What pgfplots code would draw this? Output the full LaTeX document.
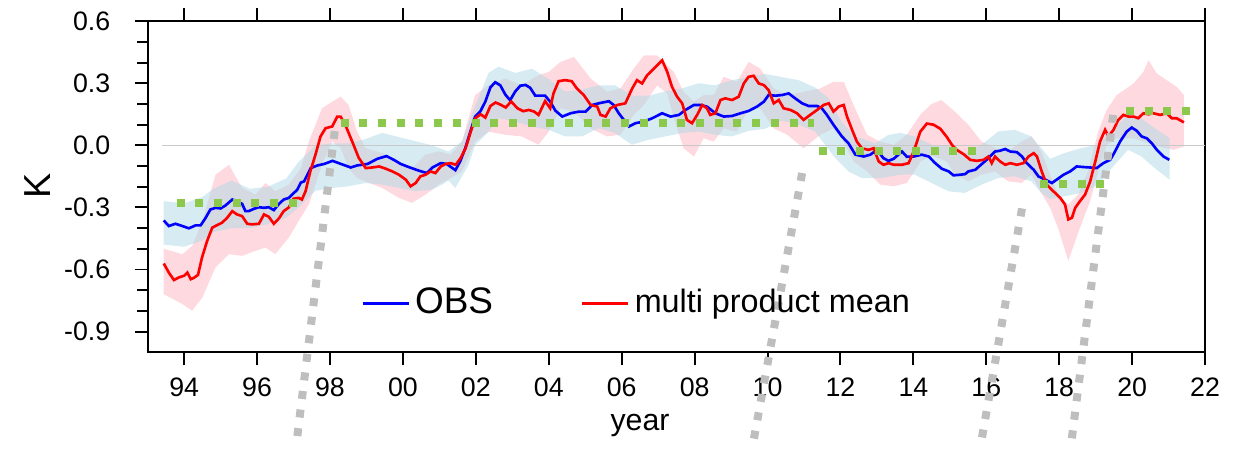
\documentclass[border=0pt]{standalone}
\usepackage{fontspec}
\setmainfont{Liberation Sans}
\usepackage{pgfplots}
\usepackage{pgfplotstable}
\pgfplotsset{compat=1.18}
\usepgfplotslibrary{fillbetween}

\definecolor{obsblue}{RGB}{0,0,255}
\definecolor{mpmred}{RGB}{255,0,0}
\definecolor{bandpink}{RGB}{255,192,203}
\definecolor{bandblue}{RGB}{173,216,230}
\definecolor{stepgreen}{RGB}{140,200,75}
\definecolor{linkgray}{RGB}{190,190,190}

% OBS
\pgfplotstableread{
x y
1993.44 -0.363
1993.58 -0.390
1993.76 -0.379
1993.95 -0.390
1994.13 -0.401
1994.31 -0.387
1994.45 -0.387
1994.59 -0.350
1994.72 -0.310
1994.86 -0.302
1995.00 -0.305
1995.13 -0.291
1995.32 -0.262
1995.45 -0.270
1995.59 -0.283
1995.68 -0.318
1995.77 -0.318
1995.91 -0.307
1996.05 -0.299
1996.19 -0.302
1996.32 -0.299
1996.46 -0.313
1996.60 -0.283
1996.73 -0.262
1996.87 -0.254
1997.01 -0.230
1997.10 -0.215
1997.20 -0.180
1997.29 -0.174
1997.47 -0.110
1997.66 -0.097
1997.84 -0.090
1998.07 -0.075
1998.30 -0.090
1998.57 -0.107
1998.75 -0.097
1999.03 -0.090
1999.30 -0.065
1999.55 -0.052
1999.75 -0.070
1999.94 -0.090
2000.16 -0.105
2000.43 -0.122
2000.66 -0.134
2000.81 -0.107
2001.04 -0.086
2001.20 -0.090
2001.44 -0.120
2001.57 -0.078
2001.71 -0.014
2001.85 0.066
2001.98 0.139
2002.12 0.163
2002.26 0.211
2002.40 0.280
2002.53 0.305
2002.67 0.290
2002.81 0.245
2002.94 0.218
2003.08 0.260
2003.22 0.288
2003.36 0.292
2003.49 0.278
2003.63 0.240
2003.77 0.240
2003.90 0.240
2004.04 0.211
2004.18 0.168
2004.37 0.139
2004.60 0.155
2004.83 0.163
2005.01 0.163
2005.19 0.195
2005.42 0.205
2005.65 0.213
2005.78 0.195
2005.92 0.155
2006.06 0.123
2006.20 0.091
2006.38 0.107
2006.61 0.115
2006.84 0.131
2007.11 0.155
2007.34 0.139
2007.57 0.147
2007.75 0.171
2007.98 0.195
2008.16 0.195
2008.34 0.187
2008.57 0.155
2008.80 0.139
2009.03 0.142
2009.26 0.155
2009.48 0.166
2009.71 0.187
2009.90 0.211
2010.03 0.243
2010.22 0.240
2010.40 0.243
2010.58 0.251
2010.76 0.227
2010.95 0.203
2011.13 0.190
2011.36 0.190
2011.49 0.179
2011.63 0.147
2011.81 0.099
2012.04 0.043
2012.22 0.010
2012.41 -0.045
2012.64 -0.054
2012.82 -0.045
2013.00 -0.022
2013.18 -0.062
2013.32 -0.075
2013.46 -0.065
2013.69 -0.030
2013.82 -0.055
2014.01 -0.054
2014.23 -0.045
2014.42 -0.054
2014.60 -0.086
2014.78 -0.113
2014.97 -0.126
2015.10 -0.145
2015.29 -0.142
2015.42 -0.139
2015.51 -0.126
2015.70 -0.118
2015.88 -0.090
2016.06 -0.062
2016.24 -0.030
2016.38 -0.026
2016.52 -0.018
2016.66 -0.030
2016.84 -0.033
2016.98 -0.054
2017.11 -0.086
2017.30 -0.118
2017.43 -0.150
2017.62 -0.166
2017.80 -0.182
2017.93 -0.166
2018.12 -0.142
2018.30 -0.126
2018.48 -0.102
2018.67 -0.105
2018.85 -0.107
2019.03 -0.110
2019.21 -0.086
2019.40 -0.070
2019.53 -0.030
2019.67 0.018
2019.85 0.066
2019.99 0.086
2020.13 0.070
2020.26 0.043
2020.40 0.034
2020.54 0.010
2020.68 -0.022
2020.86 -0.054
2021.02 -0.070
}\obs

% multi product mean
\pgfplotstableread{
x y
1993.44 -0.571
1993.58 -0.615
1993.72 -0.651
1993.86 -0.638
1994.00 -0.630
1994.09 -0.615
1994.18 -0.647
1994.27 -0.640
1994.38 -0.626
1994.49 -0.542
1994.63 -0.462
1994.77 -0.398
1994.91 -0.385
1995.04 -0.374
1995.18 -0.350
1995.32 -0.318
1995.45 -0.334
1995.59 -0.342
1995.73 -0.379
1995.86 -0.382
1996.05 -0.379
1996.19 -0.334
1996.32 -0.345
1996.46 -0.379
1996.60 -0.353
1996.73 -0.318
1996.87 -0.300
1997.00 -0.258
1997.14 -0.254
1997.23 -0.262
1997.33 -0.222
1997.46 -0.126
1997.60 -0.046
1997.74 0.043
1997.88 0.083
1998.06 0.091
1998.20 0.139
1998.29 0.139
1998.42 0.099
1998.61 0.018
1998.79 -0.061
1998.98 -0.110
1999.16 -0.107
1999.35 -0.102
1999.53 -0.113
1999.71 -0.126
1999.89 -0.142
2000.08 -0.166
2000.21 -0.198
2000.35 -0.182
2000.48 -0.150
2000.62 -0.142
2000.76 -0.126
2000.89 -0.134
2001.04 -0.102
2001.17 -0.090
2001.31 -0.086
2001.45 -0.094
2001.58 -0.062
2001.72 -0.014
2001.86 0.066
2001.99 0.131
2002.13 0.150
2002.26 0.134
2002.40 0.190
2002.54 0.207
2002.67 0.197
2002.82 0.183
2002.97 0.212
2003.14 0.179
2003.30 0.165
2003.45 0.171
2003.60 0.163
2003.72 0.147
2003.90 0.214
2004.04 0.179
2004.13 0.251
2004.27 0.310
2004.45 0.315
2004.63 0.310
2004.77 0.275
2004.96 0.243
2005.15 0.195
2005.33 0.187
2005.42 0.147
2005.56 0.139
2005.69 0.179
2005.88 0.195
2006.10 0.203
2006.29 0.275
2006.42 0.315
2006.56 0.299
2006.70 0.339
2006.93 0.379
2007.11 0.411
2007.25 0.355
2007.38 0.283
2007.52 0.235
2007.66 0.203
2007.79 0.123
2007.93 0.107
2008.07 0.147
2008.21 0.195
2008.34 0.179
2008.43 0.147
2008.57 0.155
2008.71 0.219
2008.84 0.227
2009.03 0.219
2009.21 0.235
2009.35 0.299
2009.48 0.331
2009.62 0.336
2009.76 0.299
2009.90 0.291
2010.03 0.267
2010.17 0.203
2010.31 0.219
2010.44 0.179
2010.63 0.171
2010.81 0.155
2010.99 0.123
2011.17 0.147
2011.36 0.171
2011.54 0.195
2011.68 0.203
2011.81 0.163
2011.95 0.187
2012.09 0.195
2012.18 0.139
2012.32 0.075
2012.45 0.018
2012.59 -0.014
2012.77 -0.022
2012.91 -0.014
2013.05 -0.078
2013.18 -0.094
2013.32 -0.086
2013.46 -0.094
2013.69 -0.094
2013.87 -0.086
2014.01 -0.030
2014.19 0.066
2014.37 0.105
2014.55 0.100
2014.74 0.080
2014.92 0.040
2015.06 0.002
2015.19 -0.022
2015.38 -0.043
2015.56 -0.070
2015.74 -0.075
2015.93 -0.070
2016.06 -0.054
2016.15 -0.086
2016.24 -0.054
2016.38 -0.078
2016.52 -0.094
2016.66 -0.086
2016.84 -0.094
2017.02 -0.086
2017.16 -0.054
2017.30 -0.038
2017.39 -0.054
2017.52 -0.126
2017.66 -0.190
2017.84 -0.222
2018.03 -0.254
2018.16 -0.286
2018.25 -0.358
2018.35 -0.350
2018.44 -0.302
2018.57 -0.270
2018.71 -0.238
2018.85 -0.174
2018.99 -0.078
2019.12 0.018
2019.26 0.075
2019.35 0.043
2019.49 0.075
2019.62 0.123
2019.76 0.147
2019.90 0.139
2020.04 0.139
2020.17 0.131
2020.31 0.155
2020.45 0.150
2020.58 0.155
2020.77 0.147
2020.95 0.155
2021.09 0.131
2021.22 0.131
2021.42 0.111
}\mpm

% OBS spread, upper and lower edge
\pgfplotstableread{
x y
1993.44 -0.27
1994.00 -0.28
1994.50 -0.25
1994.80 -0.21
1995.30 -0.17
1995.80 -0.21
1996.30 -0.20
1996.80 -0.16
1997.14 -0.08
1997.60 0.00
1998.06 0.01
1998.51 0.01
1998.97 0.03
1999.43 0.06
1999.89 0.04
2000.34 0.02
2000.80 0.00
2001.25 -0.03
2001.62 0.02
2001.98 0.19
2002.35 0.35
2002.62 0.38
2003.08 0.35
2003.54 0.37
2004.00 0.32
2004.45 0.26
2004.91 0.27
2005.37 0.29
2005.82 0.29
2006.28 0.24
2006.74 0.24
2007.19 0.26
2007.65 0.275
2008.11 0.30
2008.56 0.29
2009.02 0.315
2009.48 0.33
2009.93 0.345
2010.39 0.33
2010.85 0.315
2011.30 0.28
2011.67 0.23
2012.03 0.115
2012.40 0.045
2012.95 0.01
2013.31 0.05
2013.64 0.06
2014.04 0.043
2014.50 0.003
2014.96 -0.005
2015.41 -0.037
2015.87 0.003
2016.33 0.067
2016.78 0.075
2017.24 0.043
2017.51 -0.013
2017.75 -0.065
2018.15 -0.037
2018.61 -0.013
2019.07 0.003
2019.52 0.083
2019.89 0.147
2020.25 0.131
2020.62 0.083
2021.03 0.035
}\obshi

\pgfplotstableread{
x y
1993.44 -0.48
1994.00 -0.49
1994.50 -0.46
1994.80 -0.42
1995.30 -0.40
1995.80 -0.40
1996.30 -0.38
1996.80 -0.35
1997.14 -0.30
1997.60 -0.22
1998.06 -0.206
1998.51 -0.198
1998.97 -0.182
1999.43 -0.19
1999.89 -0.206
2000.34 -0.222
2000.80 -0.214
2001.07 -0.19
2001.25 -0.17
2001.44 -0.206
2001.80 -0.094
2001.98 0.00
2002.35 0.066
2002.62 0.131
2003.08 0.115
2003.54 0.091
2004.00 0.075
2004.45 0.043
2004.91 0.043
2005.37 0.083
2005.82 0.059
2006.28 0.003
2006.74 0.027
2007.19 0.043
2007.65 0.059
2008.11 0.067
2008.56 0.051
2009.02 0.043
2009.48 0.07
2009.93 0.08
2010.39 0.12
2010.85 0.10
2011.30 0.067
2011.58 0.003
2011.85 -0.061
2012.22 -0.126
2012.58 -0.158
2013.13 -0.158
2013.64 -0.142
2014.04 -0.142
2014.50 -0.182
2014.96 -0.222
2015.41 -0.23
2015.87 -0.19
2016.33 -0.158
2016.78 -0.15
2017.24 -0.174
2017.51 -0.23
2017.75 -0.26
2018.15 -0.246
2018.61 -0.23
2019.07 -0.19
2019.52 -0.094
2019.89 -0.021
2020.25 -0.053
2020.62 -0.11
2021.03 -0.166
}\obslo

% product spread, upper and lower edge
\pgfplotstableread{
x y
1993.44 -0.50
1993.95 -0.526
1994.22 -0.486
1994.50 -0.366
1994.86 -0.142
1995.23 -0.094
1995.59 -0.206
1995.96 -0.238
1996.23 -0.182
1996.50 -0.222
1996.87 -0.19
1997.20 -0.11
1997.42 0.019
1997.78 0.179
1998.06 0.211
1998.29 0.235
1998.51 0.195
1998.74 0.067
1998.97 -0.013
1999.43 -0.037
1999.89 -0.078
2000.25 -0.11
2000.62 -0.045
2000.98 -0.029
2001.31 -0.045
2001.62 0.018
2001.98 0.243
2002.35 0.291
2002.81 0.323
2003.26 0.291
2003.72 0.339
2004.00 0.355
2004.32 0.403
2004.69 0.427
2005.15 0.323
2005.60 0.259
2005.97 0.275
2006.33 0.371
2006.61 0.435
2006.97 0.435
2007.43 0.355
2007.70 0.259
2007.98 0.211
2008.25 0.243
2008.52 0.243
2008.80 0.331
2009.16 0.307
2009.48 0.403
2009.80 0.371
2010.17 0.275
2010.54 0.243
2010.99 0.259
2011.45 0.275
2011.81 0.307
2012.09 0.307
2012.36 0.195
2012.73 0.051
2013.09 0.018
2013.46 0.002
2013.82 0.051
2014.20 0.15
2014.50 0.20
2014.77 0.219
2015.14 0.163
2015.51 0.099
2015.87 0.018
2016.24 -0.013
2016.60 -0.029
2016.97 0.018
2017.24 0.043
2017.51 -0.029
2017.75 -0.142
2017.97 -0.238
2018.25 -0.286
2018.52 -0.238
2018.79 -0.126
2019.07 0.067
2019.30 0.17
2019.58 0.243
2020.04 0.299
2020.31 0.355
2020.45 0.411
2020.68 0.347
2020.95 0.315
2021.22 0.283
2021.42 0.243
}\mpmhi

\pgfplotstableread{
x y
1993.44 -0.719
1993.95 -0.767
1994.22 -0.799
1994.50 -0.735
1994.86 -0.59
1995.23 -0.526
1995.59 -0.534
1995.96 -0.51
1996.23 -0.494
1996.50 -0.526
1996.87 -0.446
1997.14 -0.366
1997.42 -0.286
1997.78 -0.094
1998.06 0.019
1998.29 -0.013
1998.51 -0.11
1998.74 -0.158
1998.97 -0.174
1999.43 -0.206
1999.89 -0.254
2000.25 -0.278
2000.62 -0.238
2000.98 -0.19
2001.31 -0.158
2001.62 -0.126
2001.98 0.019
2002.35 0.066
2002.81 0.051
2003.26 0.043
2003.72 0.003
2004.00 0.066
2004.32 0.179
2004.69 0.163
2005.15 0.082
2005.60 0.043
2005.97 0.051
2006.33 0.147
2006.61 0.195
2006.97 0.29
2007.25 0.25
2007.43 0.131
2007.70 -0.014
2007.98 -0.054
2008.25 0.034
2008.52 0.018
2008.80 0.082
2009.16 0.066
2009.48 0.179
2009.80 0.179
2010.17 0.082
2010.54 0.051
2010.99 -0.014
2011.45 0.051
2011.81 0.082
2012.09 0.018
2012.36 -0.078
2012.73 -0.126
2013.09 -0.19
2013.46 -0.198
2013.82 -0.182
2014.20 -0.078
2014.50 -0.05
2014.92 -0.078
2015.14 -0.142
2015.51 -0.174
2015.87 -0.142
2016.24 -0.126
2016.60 -0.174
2016.97 -0.182
2017.24 -0.142
2017.51 -0.23
2017.75 -0.302
2017.97 -0.40
2018.25 -0.558
2018.57 -0.398
2018.85 -0.27
2019.12 -0.094
2019.30 0.002
2019.58 0.034
2020.04 0.034
2020.58 0.002
2021.13 -0.022
2021.42 -0.006
}\mpmlo

\begin{document}
\begin{tikzpicture}
\begin{axis}[
    scale only axis,
    width=105.7mm, height=33.1mm,
    xmin=1993, xmax=2022,
    ymin=-1.0, ymax=0.6,
    clip=false,
    axis line style={line width=0.55pt},
    tick style={line width=0.55pt, black},
    tick align=outside,
    major tick length=1.3mm,
    minor tick length=1.05mm,
    xtick pos=both, ytick pos=left,
    xtick={1994,1996,...,2022},
    xticklabels={94,96,98,00,02,04,06,08,10,12,14,16,18,20,22},
    minor x tick num=1,
    ytick={-0.9,-0.6,-0.3,0,0.3,0.6},
    yticklabels={-0.9,-0.6,-0.3,0.0,0.3,0.6},
    minor y tick num=2,
    tick label style={font=\fontsize{7.6}{9}\selectfont},
    yticklabel style={xshift=-1.2mm},
    xlabel={year},
    xlabel style={at={(rel axis cs:0.4656,-0.2205)}, anchor=center, font=\fontsize{8.6}{10}\selectfont},
    ylabel={K},
    ylabel style={at={(rel axis cs:-0.1038,0.5015)}, anchor=center, font=\fontsize{10.7}{12}\selectfont},
    legend style={at={(rel axis cs:0.2015,0.148)}, anchor=west, draw=none, fill=none,
        inner sep=0pt, nodes={inner sep=0.5mm},
        /tikz/every even column/.append style={column sep=8.3mm}},
    legend columns=2,
    legend image code/.code={\draw[#1] (0mm,0mm) -- (4.6mm,0mm);},
]
% zero line
\addplot[linkgray!85, line width=0.4pt, forget plot] coordinates {(1993.4,0) (2022,0)};

% spreads
\addplot[draw=none, name path=mh, forget plot] table {\mpmhi};
\addplot[draw=none, name path=ml, forget plot] table {\mpmlo};
\addplot[bandpink, fill opacity=0.6, draw=none, forget plot] fill between[of=mh and ml];
\addplot[draw=none, name path=oh, forget plot] table {\obshi};
\addplot[draw=none, name path=ol, forget plot] table {\obslo};
\addplot[bandblue, fill opacity=0.5, draw=none, forget plot] fill between[of=oh and ol];

% lines
\addplot[obsblue, line width=0.75pt] table {\obs};
\addlegendentry{\fontsize{10.5}{12}\selectfont OBS}
\addplot[mpmred, line width=0.75pt] table {\mpm};
\addlegendentry{\fontsize{9.2}{11}\selectfont multi product mean}

% step levels
\addplot[stepgreen, line width=0.8mm, dash pattern=on 0.8mm off 1.07mm, forget plot] coordinates {(1993.79,-0.278) (1997.09,-0.278)};
\addplot[stepgreen, line width=0.8mm, dash pattern=on 0.8mm off 1.07mm, forget plot] coordinates {(1998.29,0.107) (2011.28,0.107)};
\addplot[stepgreen, line width=0.8mm, dash pattern=on 0.8mm off 1.07mm, forget plot] coordinates {(2011.40,-0.025) (2015.72,-0.025)};
\addplot[stepgreen, line width=0.8mm, dash pattern=on 0.8mm off 1.07mm, forget plot] coordinates {(2017.48,-0.187) (2019.24,-0.187)};
\addplot[stepgreen, line width=0.8mm, dash pattern=on 0.8mm off 1.07mm, forget plot] coordinates {(2019.83,0.166) (2021.62,0.166)};

% links to the panel below
\addplot[linkgray, line width=0.8mm, dash pattern=on 0.8mm off 1.07mm, forget plot] coordinates {(1998.13,0.069) (1997.09,-1.425)};
\addplot[linkgray, line width=0.8mm, dash pattern=on 0.8mm off 1.07mm, forget plot] coordinates {(2010.95,-0.134) (2009.62,-1.425)};
\addplot[linkgray, line width=0.8mm, dash pattern=on 0.8mm off 1.07mm, forget plot] coordinates {(2016.98,-0.305) (2015.87,-1.425)};
\addplot[linkgray, line width=0.8mm, dash pattern=on 0.8mm off 1.07mm, forget plot] coordinates {(2019.48,0.147) (2018.34,-1.425)};

\path (rel axis cs:-0.1397,-0.2689) rectangle (rel axis cs:1.0274,1.0514);
\end{axis}
\end{tikzpicture}
\end{document}
